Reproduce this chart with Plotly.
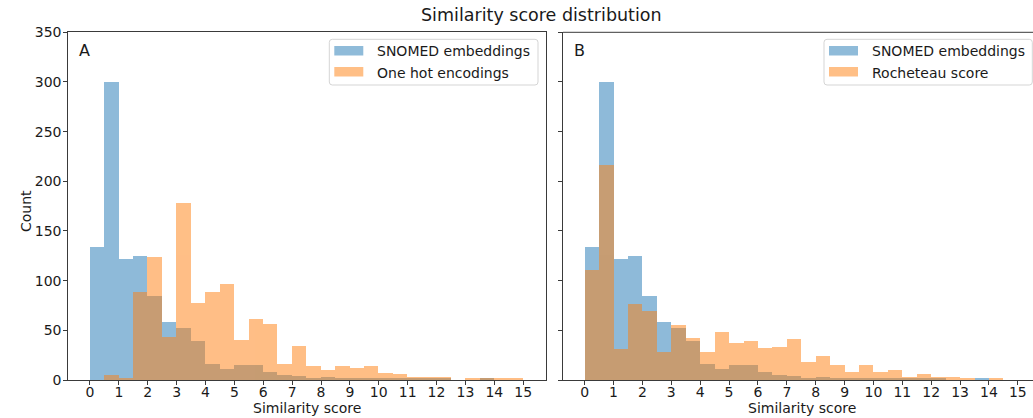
import plotly.graph_objects as go

# ---------------- data (30 bins of width 0.5 from 0 to 15) ----------------
bin_left_edges = [i * 0.5 for i in range(30)]
bin_width = 0.5

snomed_counts = [134, 300, 122, 125, 84, 58, 52, 39, 16, 11,
                 15, 15, 8, 5, 4, 2, 3, 1, 2, 1,
                 2, 1, 1, 1, 2, 0, 0, 1, 0, 0]
onehot_counts = [0, 5, 2, 88, 124, 43, 178, 77, 88, 96,
                 40, 61, 56, 16, 34, 14, 10, 14, 12, 14,
                 7, 6, 3, 3, 3, 0, 1, 2, 1, 2]
rocheteau_counts = [110, 216, 31, 76, 69, 28, 55, 42, 28, 48,
                    37, 39, 32, 33, 41, 18, 24, 15, 8, 15,
                    8, 10, 3, 6, 3, 3, 1, 0, 2, 0]

x_ticks = list(range(16))
y_ticks = [0, 50, 100, 150, 200, 250, 300, 350]

title_text = "Similarity score distribution"
x_label = "Similarity score"
y_label = "Count"
legend_a = ["SNOMED embeddings", "One hot encodings"]
legend_b = ["SNOMED embeddings", "Rocheteau score"]
panel_labels = ["A", "B"]

# ---------------- styling ----------------
W, H = 1033, 418
BLUE = "#1f77b4"
ORANGE = "#ff7f0e"
BLUE_A = "#8fbbd9"
ORANGE_A = "#ffbf86"
FONT = "DejaVu Sans"
TXT = "#1a1a1a"
AX = "#3a3a3a"


def px(x):
    return x / W


def py(y):
    return 1 - y / H


centers = [e + bin_width / 2 for e in bin_left_edges]

fig = go.Figure()


def add_hist(counts, color, xa, ya, name):
    fig.add_trace(go.Bar(
        x=centers, y=counts, width=bin_width, name=name,
        marker=dict(color=color, line=dict(width=0)),
        opacity=0.5, xaxis=xa, yaxis=ya, showlegend=False,
    ))


add_hist(snomed_counts, BLUE, "x", "y", legend_a[0])
add_hist(onehot_counts, ORANGE, "x", "y", legend_a[1])
add_hist(snomed_counts, BLUE, "x2", "y2", legend_b[0])
add_hist(rocheteau_counts, ORANGE, "x2", "y2", legend_b[1])

unit = (545.7 - 68.3) / 16.53
ydom = [py(380), py(32.3)]

common_x = dict(tickvals=x_ticks, ticks="outside", ticklen=4, tickwidth=1,
                tickcolor=AX, showgrid=False, zeroline=False, showline=True,
                linecolor=AX, linewidth=1, automargin=False,
                ticklabelstandoff=-5,
                tickfont=dict(family=FONT, size=14, color=TXT))
common_y = dict(tickvals=y_ticks, ticks="outside", ticklen=4, tickwidth=1,
                tickcolor=AX, showgrid=False, zeroline=False, showline=True,
                linecolor=AX, linewidth=1, range=[0, 350], domain=ydom,
                automargin=False, ticklabelstandoff=-1,
                tickfont=dict(family=FONT, size=14, color=TXT))

fig.update_layout(
    template="none",
    width=W, height=H,
    margin=dict(l=0, r=0, t=0, b=0, pad=0, autoexpand=False),
    paper_bgcolor="white", plot_bgcolor="white",
    barmode="overlay", bargap=0,
    xaxis=dict(domain=[px(68.3), px(545.7)], range=[-0.75, 15.78],
               anchor="y", mirror=True, **common_x),
    yaxis=dict(anchor="x", mirror=True, **common_y),
    xaxis2=dict(domain=[px(563), 1.0], range=[-0.75, -0.75 + (W - 563) / unit],
                anchor="y2", mirror=False, **common_x),
    yaxis2=dict(anchor="x2", mirror=False, showticklabels=False, **common_y),
)

shapes = []
# top spine of right panel (right spine is cut off at the image edge)
shapes.append(dict(type="line", xref="x2 domain", yref="y2 domain",
                   x0=0, x1=1, y0=1, y1=1, line=dict(color=AX, width=1)))


def rounded_box(x0, y0, x1, y1, r=3):
    p = (f"M {px(x0 + r)},{py(y0)} L {px(x1 - r)},{py(y0)} "
         f"Q {px(x1)},{py(y0)} {px(x1)},{py(y0 + r)} "
         f"L {px(x1)},{py(y1 - r)} Q {px(x1)},{py(y1)} {px(x1 - r)},{py(y1)} "
         f"L {px(x0 + r)},{py(y1)} Q {px(x0)},{py(y1)} {px(x0)},{py(y1 - r)} "
         f"L {px(x0)},{py(y0 + r)} Q {px(x0)},{py(y0)} {px(x0 + r)},{py(y0)} Z")
    return dict(type="path", xref="paper", yref="paper", path=p,
                fillcolor="rgba(255,255,255,0.8)",
                line=dict(color="#d5d5d5", width=1))


annotations = []


def add_legend(box_x0, box_x1, labels):
    shapes.append(rounded_box(box_x0, 39.3, box_x1, 85))
    patch_x0 = box_x0 + 5
    patch_x1 = patch_x0 + 29
    for (yt, yb, yc), col, lab in zip([(46, 55.5, 51.5), (67, 76.5, 72.5)],
                                      [BLUE_A, ORANGE_A], labels):
        shapes.append(dict(type="rect", xref="paper", yref="paper",
                           x0=px(patch_x0), x1=px(patch_x1), y0=py(yb), y1=py(yt),
                           fillcolor=col, line=dict(width=0)))
        annotations.append(dict(text=lab, xref="paper", yref="paper",
                                x=px(patch_x1 + 11.5), y=py(yc),
                                xanchor="left", yanchor="middle", showarrow=False,
                                font=dict(family=FONT, size=14, color=TXT)))


add_legend(329.3, 538, legend_a)
add_legend(824, 1032.3, legend_b)

# panel letters
for lab, x in zip(panel_labels, [77.0, 571.5]):
    annotations.append(dict(text=lab, xref="paper", yref="paper",
                            x=px(x), y=py(50.5), xanchor="left", yanchor="middle",
                            showarrow=False,
                            font=dict(family=FONT, size=16, color=TXT)))

# axis titles
for xc in [306.7, 801.5]:
    annotations.append(dict(text=x_label, xref="paper", yref="paper",
                            x=px(xc), y=py(408), xanchor="center", yanchor="middle",
                            showarrow=False,
                            font=dict(family=FONT, size=14, color=TXT)))
annotations.append(dict(text=y_label, xref="paper", yref="paper",
                        x=px(26.5), y=py(211.5), xanchor="center", yanchor="middle",
                        textangle=-90, showarrow=False,
                        font=dict(family=FONT, size=14, color=TXT)))
# suptitle
annotations.append(dict(text=title_text, xref="paper", yref="paper",
                        x=px(541), y=py(15.5), xanchor="center", yanchor="middle",
                        showarrow=False,
                        font=dict(family=FONT, size=17.5, color=TXT)))

fig.update_layout(shapes=shapes, annotations=annotations)

fig.write_html("out.html")
